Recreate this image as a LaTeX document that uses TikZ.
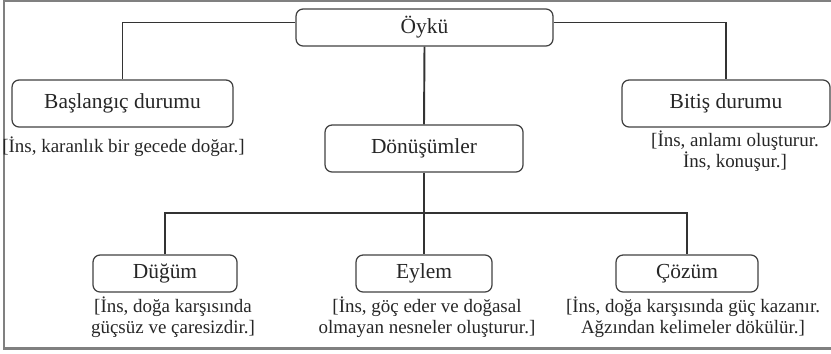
\documentclass[tikz,border=0pt]{standalone}
\usepackage{fontspec}
\setmainfont{Liberation Serif}
\usepackage{xcolor}

\begin{document}
\begin{tikzpicture}[x=0.02cm, y=-0.02cm,
    kutu/.style={draw=black!75, line width=0.7pt, rounded corners=4pt, inner sep=0pt,
      text=black!85, font=\fontsize{12.2}{14}\selectfont},
    aciklama/.style={align=center, inner sep=0pt, text=black!85,
      font=\fontsize{10.8}{11.8}\selectfont},
    cizgi/.style={draw=black!80, line width=1.1pt}]
      \useasboundingbox (0,0) rectangle (831,353);

      \draw[black!50, line width=0.8pt] (831,1) -- (4,1) -- (4,348);
      \draw[black!50, line width=1.7pt] (3,348) -- (831,348);

      \node[kutu, minimum width=5.14cm, minimum height=0.74cm] (oyku) at (424.5,27.5) {Öykü};
      \node[kutu, minimum width=4.42cm, minimum height=0.94cm] (baslangic) at (122.5,103.5) {Başlangıç durumu};
      \node[kutu, minimum width=4.16cm, minimum height=0.94cm] (bitis) at (726,103.5) {Bitiş durumu};
      \node[kutu, minimum width=3.96cm, minimum height=0.94cm] (donusum) at (424,148.5) {Dönüşümler};
      \node[kutu, minimum width=2.88cm, minimum height=0.74cm] (dugum) at (165,273.5) {Düğüm};
      \node[kutu, minimum width=2.72cm, minimum height=0.74cm] (eylem) at (424,273.5) {Eylem};
      \node[kutu, minimum width=2.84cm, minimum height=0.74cm] (cozum) at (687,273.5) {Çözüm};

      \node[aciklama] (baslangicnot) at (123.5,147) {[İns, karanlık bir gecede doğar.]};
      \node[aciklama] (bitisnot) at (735,151.5) {[İns, anlamı oluşturur.\\İns, konuşur.]};
      \node[aciklama] (dugumnot) at (173,317) {[İns, doğa karşısında\\güçsüz ve çaresizdir.]};
      \node[aciklama] (eylemnot) at (427,317) {[İns, göç eder ve doğasal\\olmayan nesneler oluşturur.]};
      \node[aciklama] (cozumnot) at (693,317) {[İns, doğa karşısında güç kazanır.\\Ağzından kelimeler dökülür.]};

      \coordinate (ayrim) at (424,213);

      \draw[cizgi] ([yshift=1mm]oyku.west) -| (baslangic.north);
      \draw[cizgi] ([yshift=1mm]oyku.east) -| (bitis.north);
      \draw[cizgi] (oyku.south) -- (donusum.north);
      \draw[cizgi] (donusum.south) -- (ayrim);
      \draw[cizgi] (dugum.north) |- (ayrim) -| (cozum.north);
      \draw[cizgi] (ayrim) -- (eylem.north);
    \end{tikzpicture}
\end{document}
